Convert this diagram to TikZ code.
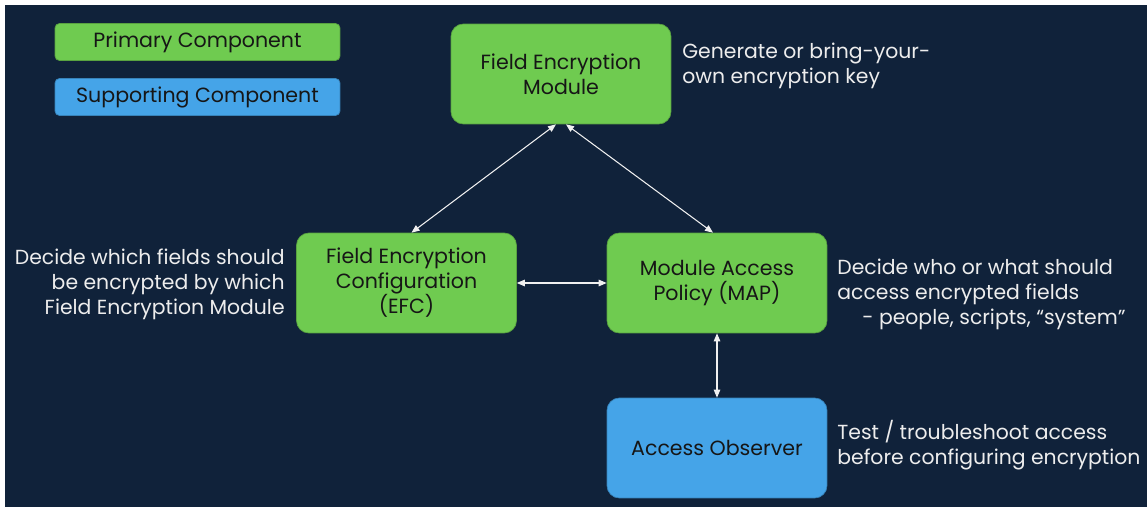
\documentclass[tikz,border=0pt]{standalone}
\usepackage{fontspec}
\setmainfont{Poppins}
\usetikzlibrary{positioning,arrows.meta}

\definecolor{slide}{HTML}{10223A}
\definecolor{primgreen}{HTML}{6FCB50}
\definecolor{suppblue}{HTML}{45A4E8}
\definecolor{boxtext}{HTML}{161616}
\definecolor{notetext}{HTML}{EDEDED}

\tikzset{
  comp/.style={draw=primgreen!80!black, fill=primgreen, rounded corners=7pt,
    minimum width=4.4cm, minimum height=2cm, align=center, text=boxtext,
    font=\fontsize{11.7}{14.2}\selectfont},
  support/.style={comp, draw=suppblue!80!black, fill=suppblue},
  legendbox/.style={rounded corners=2.5pt, minimum width=5.7cm,
    minimum height=0.74cm, text=boxtext, font=\fontsize{11.7}{14.2}\selectfont},
  note/.style={text=notetext, inner sep=0pt, font=\fontsize{11.6}{14.2}\selectfont},
  link/.style={draw=white!88!gray, line width=0.6pt,
    {Triangle[length=1.6mm,width=1.3mm]}-{Triangle[length=1.6mm,width=1.3mm]}}
}

\begin{document}
\begin{tikzpicture}[x=0.02cm,y=-0.02cm]

% page and slide background
\fill[white] (0,0) rectangle (1147,507);
\fill[slide] (5,5) rectangle (1147,507);
\useasboundingbox (0,0) rectangle (1147,507);

% legend
\node[legendbox, fill=primgreen, draw=primgreen!80!black] (legprim) at (197.5,42) {Primary Component};
\node[legendbox, fill=suppblue, draw=suppblue!80!black] (legsupp) at (197.5,97) {Supporting Component};

% components
\node[comp] (fem) at (561,74) {Field Encryption\\Module};
\node[comp] (fec) at (406.5,283) {Field Encryption\\Configuration\\(EFC)};
\node[comp] (map) at (717,283) {Module Access\\Policy (MAP)};
\node[support] (obs) at (717,448) {Access Observer};

% notes
\node[note, anchor=west, align=left] (femnote) at (682,66) {Generate or bring-your-\\own encryption key};
\node[note, anchor=east, align=right] (fecnote) at (285,284) {Decide which fields should\\be encrypted by which\\Field Encryption Module};
\node[note, anchor=west, align=left] (mapnote) at (837,294) {Decide who or what should\\access encrypted fields\\\hspace*{0.5cm}- people, scripts, “system”};
\node[note, anchor=west, align=left] (obsnote) at (837,445.5) {Test / troubleshoot access\\before configuring encryption};

% links
\draw[link] ([xshift=-0.1cm]fem.south) -- ([xshift=0.1cm]fec.north);
\draw[link] ([xshift=0.1cm]fem.south) -- ([xshift=-0.08cm]map.north);
\draw[link] (fec.east) -- (map.west);
\draw[link] (map.south) -- (obs.north);

\end{tikzpicture}
\end{document}
